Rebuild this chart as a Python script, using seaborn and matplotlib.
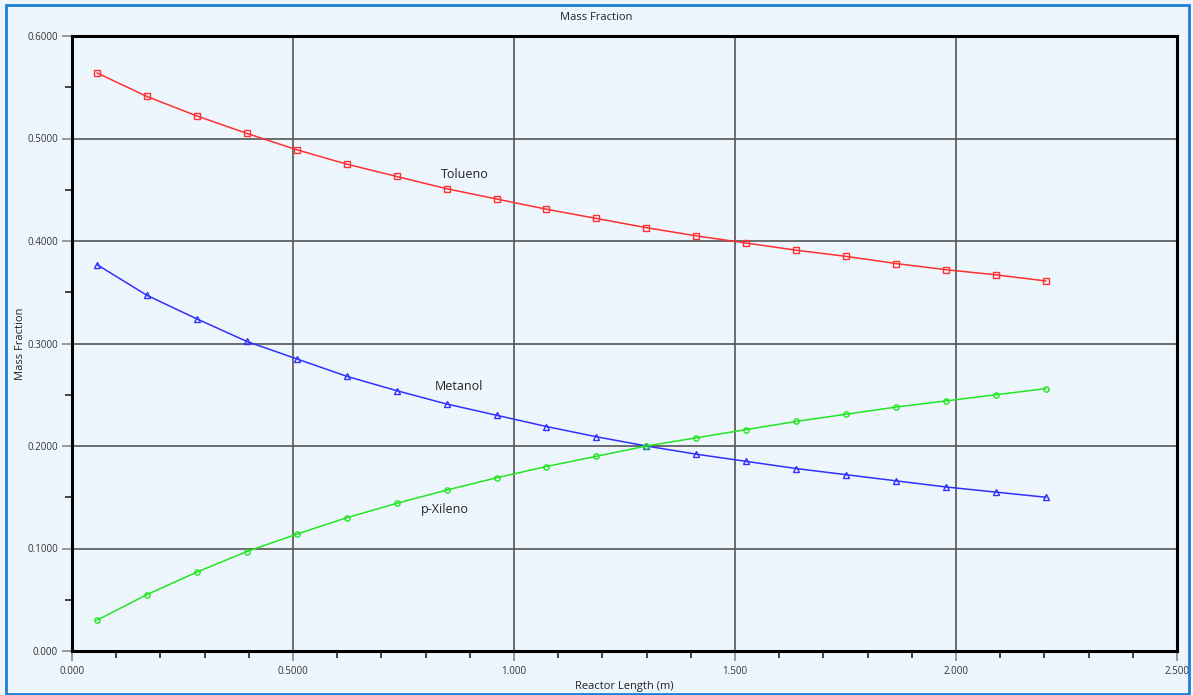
import matplotlib
matplotlib.use("Agg")
import matplotlib.pyplot as plt
import seaborn as sns
import pandas as pd
from matplotlib.patches import Rectangle
from matplotlib.ticker import MultipleLocator, FixedLocator

# ---- data ----
reactor_length = [0.0565, 0.1695, 0.2825, 0.3955, 0.5085, 0.6215, 0.7345, 0.8475,
                  0.9605, 1.0735, 1.1865, 1.2995, 1.4125, 1.5255, 1.6385, 1.7515,
                  1.8645, 1.9775, 2.0905, 2.2035]
tolueno = [0.564, 0.541, 0.522, 0.505, 0.489, 0.475, 0.463, 0.451, 0.441, 0.431,
           0.422, 0.413, 0.405, 0.398, 0.391, 0.385, 0.378, 0.372, 0.367, 0.361]
metanol = [0.377, 0.347, 0.324, 0.302, 0.285, 0.268, 0.254, 0.241, 0.230, 0.219,
           0.209, 0.200, 0.192, 0.185, 0.178, 0.172, 0.166, 0.160, 0.155, 0.150]
p_xileno = [0.030, 0.055, 0.077, 0.097, 0.114, 0.130, 0.144, 0.157, 0.169, 0.180,
            0.190, 0.200, 0.208, 0.216, 0.224, 0.231, 0.238, 0.244, 0.250, 0.256]
series_names = ["Tolueno", "Metanol", "p-Xileno"]
x_ticks = [0.0, 0.5, 1.0, 1.5, 2.0, 2.5]
x_tick_labels = ["0.000", "0.5000", "1.000", "1.500", "2.000", "2.500"]
y_ticks = [0.0, 0.1, 0.2, 0.3, 0.4, 0.5, 0.6]
y_tick_labels = ["0.000", "0.1000", "0.2000", "0.3000", "0.4000", "0.5000", "0.6000"]
label_pos = {"Tolueno": (0.889, 0.465), "Metanol": (0.875, 0.258), "p-Xileno": (0.843, 0.138)}

df = pd.DataFrame({"x": reactor_length * 3,
                   "y": tolueno + metanol + p_xileno,
                   "s": [series_names[0]] * 20 + [series_names[1]] * 20 + [series_names[2]] * 20})

sns.set_style("ticks")
plt.rcParams["font.family"] = ["Open Sans", "DejaVu Sans"]

bg = "#eef6fd"
fig = plt.figure(figsize=(11.93, 6.95), dpi=100, facecolor=bg)
ax = fig.add_axes([72 / 1193, 1 - 651 / 695, (1177 - 72) / 1193, (651 - 36) / 695])
ax.set_facecolor(bg)

styles = {"Tolueno": ("#ff3030", "s"), "Metanol": ("#3030ff", "^"), "p-Xileno": ("#22e622", "o")}
for name in series_names:
    color, mk = styles[name]
    sub = df[df["s"] == name]
    sns.lineplot(data=sub, x="x", y="y", ax=ax, color=color, lw=1.1, marker=mk,
                 markersize=4.5 if mk != "o" else 3.8, markerfacecolor="none",
                 markeredgecolor=color, markeredgewidth=1.0, legend=False)
    tx, ty = label_pos[name]
    ax.text(tx, ty, name, ha="center", va="center", fontsize=9, color="#222222")

ax.set_xlim(0, 2.5)
ax.set_ylim(0, 0.6)
ax.xaxis.set_major_locator(FixedLocator(x_ticks))
ax.set_xticklabels(x_tick_labels)
ax.xaxis.set_minor_locator(MultipleLocator(0.1))
ax.yaxis.set_major_locator(FixedLocator(y_ticks))
ax.set_yticklabels(y_tick_labels)
ax.yaxis.set_minor_locator(MultipleLocator(0.05))
ax.grid(True, which="major", color="#555555", lw=1.2)
ax.tick_params(which="major", length=7, width=1.2, color="#888888", labelsize=7,
               labelcolor="#333333", pad=4)
ax.tick_params(which="minor", length=5, width=1.2, color="#222222")
ax.tick_params(axis="y", which="major", pad=3)
for sp in ax.spines.values():
    sp.set_visible(True)
    sp.set_color("black")
    sp.set_linewidth(2.2)

ax.set_xlabel("Reactor Length (m)", fontsize=8, color="#222222", labelpad=2.5)
ax.set_ylabel("Mass Fraction", fontsize=8, color="#222222", labelpad=1)
fig.text(0.5, 1 - 17 / 695, "Mass Fraction", ha="center", va="center", fontsize=8, color="#222222")

fig.patches.append(Rectangle((6 / 1193, 1 / 695), 1183 / 1193, 689 / 695, transform=fig.transFigure,
                             fill=False, edgecolor="#1e7fd6", lw=2))

fig.savefig("out.png", dpi=100, facecolor=bg)
